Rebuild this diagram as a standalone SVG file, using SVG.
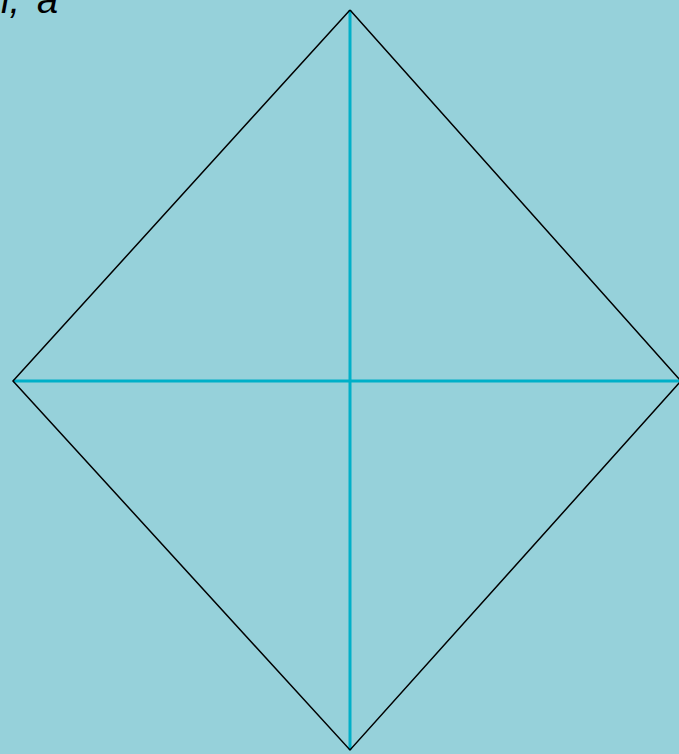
<svg xmlns="http://www.w3.org/2000/svg" width="679" height="754" viewBox="0 0 679 754">
<style>
.edge{stroke:#000;stroke-width:1.5;fill:none}
.axis{stroke:#00B0C8;stroke-width:3;fill:none}
.lbl{font-family:"Liberation Sans",Arial,sans-serif;font-style:italic;font-size:38px;fill:#000}
</style>
<rect width="679" height="754" fill="#96D1DA"/>
<g id="label"><text class="lbl" x="1" y="13">i,<tspan x="37">a</tspan></text></g>
<g id="connectors">
<line class="axis" x1="13" y1="381" x2="679" y2="381"/>
<line class="axis" x1="350" y1="10" x2="350" y2="750"/>
<polyline class="edge" points="350,10 681,381 350,750 13,381 350,10"/>
</g>
</svg>
